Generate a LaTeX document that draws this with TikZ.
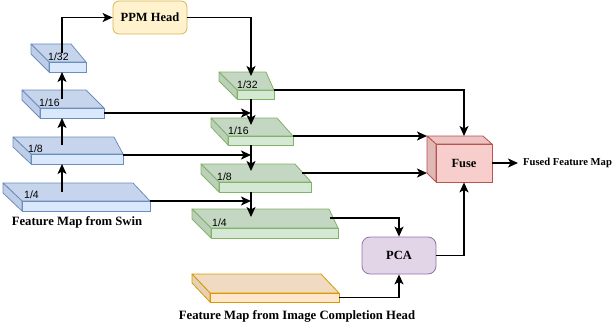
\documentclass[tikz,border=0pt]{standalone}
\usepackage{fontspec}
\setmainfont{Liberation Serif}
\newfontfamily\lsans{Liberation Sans}
\usetikzlibrary{arrows.meta,calc}
\definecolor{blueTop}{HTML}{C6D5EC}
\definecolor{blueFront}{HTML}{DAE8FC}
\definecolor{blueSide}{HTML}{BFCEE6}
\definecolor{blueLine}{HTML}{6C8EBF}
\definecolor{greenTop}{HTML}{C3D7C2}
\definecolor{greenFront}{HTML}{D5E8D4}
\definecolor{greenSide}{HTML}{BBCFBA}
\definecolor{greenLine}{HTML}{82B366}
\definecolor{orangeTop}{HTML}{F0DAC2}
\definecolor{orangeFront}{HTML}{FFE6CC}
\definecolor{orangeSide}{HTML}{E6D0B8}
\definecolor{orangeLine}{HTML}{D79B00}
\definecolor{redTop}{HTML}{ECC3C1}
\definecolor{redFront}{HTML}{F8CECC}
\definecolor{redSide}{HTML}{E0B8B6}
\definecolor{redLine}{HTML}{B85450}
\definecolor{ppmFill}{HTML}{FFF2CC}
\definecolor{ppmLine}{HTML}{D6B656}
\definecolor{pcaFill}{HTML}{E1D5E7}
\definecolor{pcaLine}{HTML}{9673A6}
% #1 name, #2 TLx, #3 top y, #4 TRx, #5 FLx, #6 FRx, #7 front top y, #8 bottom y, #9 colour prefix
\newcommand\myslab[9]{%
  \filldraw[fill=#9Top,draw=#9Line,line width=0.8pt,line join=round] (#2,#3) -- (#4,#3) -- (#6,#7) -- (#5,#7) -- cycle;
  \filldraw[fill=#9Side,draw=#9Line,line width=0.8pt,line join=round] (#2,#3) -- (#5,#7) -- (#5,#8) -- (#2,{#3+#8-#7}) -- cycle;
  \node[draw=#9Line,fill=#9Front,line width=0.8pt,inner sep=0pt,outer sep=0pt,anchor=north west,
        minimum width={#6-#5},minimum height={#8-#7}] (#1) at (#5,#7) {};
}
\begin{document}
\begin{tikzpicture}[x=1pt,y=-1pt,
  arr/.style={line width=1.4pt,-{Stealth[length=10pt,width=9pt,inset=2.5pt]}},
  captxt/.style={font=\bfseries\fontsize{12.7}{14}\selectfont,inner sep=0pt},
  lbl/.style={font=\lsans\fontsize{10.5}{12}\selectfont,anchor=base west,inner sep=0pt},
  box/.style={rounded corners=6pt,line width=0.8pt,font=\bfseries\fontsize{12.5}{14}\selectfont,inner sep=0pt}]
\useasboundingbox (0,0) rectangle (615,329);

% blue slabs (Swin)
\myslab{b32}{31}{44}{71}{49}{86}{62}{72}{blue}
\myslab{b16}{22}{90}{86}{40}{104}{108}{118}{blue}
\myslab{b8}{13}{137}{114}{31}{123}{154}{164}{blue}
\myslab{b4}{3}{183}{133}{22}{150}{201}{211}{blue}
\node[lbl] (lb32) at (48,60.5) {1/32};
\node[lbl] (lb16) at (39,106.5) {1/16};
\node[lbl] (lb8) at (28,152.5) {1/8};
\node[lbl] (lb4) at (24,198.5) {1/4};

% green slabs
\myslab{g32}{219}{72}{266}{237}{274}{90}{99}{green}
\myslab{g16}{211}{118}{277}{228}{293}{136}{145}{green}
\myslab{g8}{201}{164}{295}{219}{311}{182}{192}{green}
\myslab{g4}{192}{209}{329}{211}{338}{228}{238}{green}
\node[lbl] (lg32) at (237,88.5) {1/32};
\node[lbl] (lg16) at (228,134.5) {1/16};
\node[lbl] (lg8) at (217,180.5) {1/8};
\node[lbl] (lg4) at (212,226.5) {1/4};

% orange slab
\myslab{ic}{192}{274}{321}{210}{339}{293}{302}{orange}

% PPM head and PCA
\node[box,draw=ppmLine,fill=ppmFill,minimum width=74pt,minimum height=33pt] (ppm) at (150,17.5) {PPM Head};
\node[box,draw=pcaLine,fill=pcaFill,rounded corners=8pt,minimum width=74pt,minimum height=37pt] (pca) at (399,255.5) {PCA};

% Fuse cube
\filldraw[fill=redTop,draw=redLine,line width=0.8pt,line join=round] (427,136) -- (483,136) -- (492,144) -- (436,144) -- cycle;
\filldraw[fill=redSide,draw=redLine,line width=0.8pt,line join=round] (427,136) -- (436,144) -- (436,182) -- (427,173) -- cycle;
\node[box,rounded corners=0pt,draw=redLine,fill=redFront,minimum width=56pt,minimum height=38pt] (fuse) at (464,163) {Fuse};
\coordinate (fbtl) at (427,136);
\coordinate (fbbl) at (427,173);
\coordinate (ftop) at (464,136);

% captions
\node[captxt] (swin) at (77,222) {Feature Map from Swin};
\node[captxt] (icm) at (297,316) {Feature Map from Image Completion Head};
\node[font=\bfseries\fontsize{10.6}{13}\selectfont,inner xsep=5pt,inner ysep=0pt,anchor=west] (fout) at (518,163) {Fused Feature Map};

% connector points
\coordinate (s4) at (62,192);
\coordinate (s8) at (62,145);
\coordinate (s16) at (62,99);
\coordinate (s32) at (62,53);
\coordinate (g32in) at (251,76);
\coordinate (g16in) at (251,125);
\coordinate (g8in) at (251,171);
\coordinate (g4in) at (251,217);
\coordinate (h8) at (123,155);
\coordinate (g8out) at (302,173);
\coordinate (g4out) at (330,218);

% Swin pyramid arrows
\draw[arr] (s4) -- (s4 |- b8.south);
\draw[arr] (s8) -- (s8 |- b16.south);
\draw[arr] (s16) -- (s16 |- b32.south);
\draw[arr] (s32) |- (ppm.west);
\draw[arr] (ppm.east) -| (g32in);

% decoder top-down arrows
\draw[arr] (g32.south -| g16in) -- (g16in);
\draw[arr] (g16.south -| g8in) -- (g8in);
\draw[arr] (g8.south -| g4in) -- (g4in);

% lateral arrows
\draw[arr] (b16.east) -- (b16.east -| g16in);
\draw[arr] (h8) -- (h8 -| g8in);
\draw[arr] (b4.north east) -- (b4.north east -| g4in);

% to Fuse
\draw[arr] (g32.north east) -| (ftop);
\draw[arr] (g16.north east) -- (fbtl);
\draw[arr] (g8out) -- (fbbl);
\draw[arr] (g4out) -| (pca.north);
\draw[arr] (ic.east) -| (pca.south);
\draw[arr] (pca.east) -| (fuse.south);
\draw[arr] (fuse.east) -- (fout.west);
\end{tikzpicture}
\end{document}
